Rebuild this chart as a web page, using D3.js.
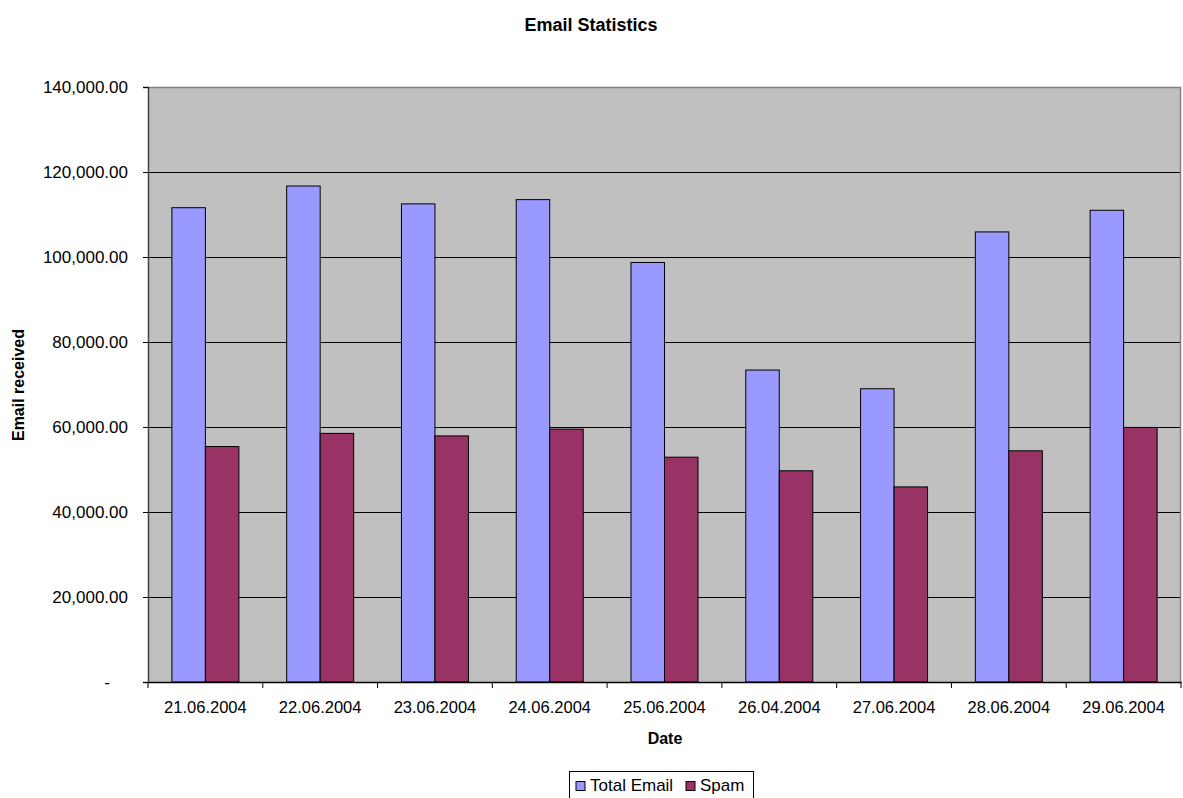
<!DOCTYPE html>
<html><head><meta charset="utf-8">
<script src="https://cdn.jsdelivr.net/npm/d3@7"></script>
<style>body{margin:0;background:#fff;} svg{display:block;font-family:"Liberation Sans",Arial,sans-serif;}</style>
</head><body>
<svg id="c" width="1183" height="798"></svg>
<script>
const categories = ["21.06.2004","22.06.2004","23.06.2004","24.06.2004","25.06.2004","26.04.2004","27.06.2004","28.06.2004","29.06.2004"];
const totalEmail = [111600,116700,112500,113500,98700,73400,69000,105900,111000];
const spam = [55400,58500,57900,59500,52900,49700,45900,54400,59900];
const seriesNames = ["Total Email","Spam"];
const seriesColors = ["#9999FF","#993366"];
const yTicks = [0,20000,40000,60000,80000,100000,120000,140000];

const svg = d3.select("#c");
const L=148, R=1181, T=87, B=682;
const x = d3.scaleBand().domain(categories).range([L,R]).padding(0);
const xs = d3.scaleBand().domain(seriesNames).range([0,x.bandwidth()]).paddingInner(0).paddingOuter(0.713);
const y = d3.scaleLinear().domain([0,140000]).range([B,T]);

svg.append("rect").attr("x",L).attr("y",T).attr("width",R-L).attr("height",B-T).attr("fill","#C0C0C0");
// gridlines
svg.append("g").selectAll("line").data(yTicks.filter(d=>d>0 && d<140000)).join("line")
  .attr("x1",L).attr("x2",R-1).attr("y1",d=>Math.round(y(d))+0.5).attr("y2",d=>Math.round(y(d))+0.5)
  .attr("stroke","#000").attr("stroke-width",1);
// border top/right
svg.append("path").attr("d",`M${L},${T+0.5}H${R-0.5}V${B}`).attr("fill","none").attr("stroke","#808080").attr("stroke-width",1.5);

const data = [totalEmail, spam];
const g = svg.append("g");
seriesNames.forEach((s,si)=>{
  g.append("g").selectAll("rect").data(categories).join("rect")
    .attr("x",(c)=>x(c)+xs(s))
    .attr("y",(c,i)=>y(data[si][i]))
    .attr("width",xs.bandwidth())
    .attr("height",(c,i)=>B-y(data[si][i]))
    .attr("fill",seriesColors[si]).attr("stroke","#000").attr("stroke-width",1);
});

// y axis
const fmt = d => d===0 ? "-" : d3.format(",.2f")(d);
const ya = svg.append("g").attr("transform",`translate(${L},0)`)
  .call(d3.axisLeft(y).tickValues(yTicks).tickFormat(fmt).tickSize(5).tickPadding(15));
ya.select(".domain").attr("stroke","#404040").attr("stroke-width",1.5);
ya.selectAll(".tick line").attr("stroke","#000");
ya.selectAll("text").attr("font-size",17).attr("fill","#000").style("font-family","Liberation Sans, Arial, sans-serif");
ya.selectAll(".tick").filter(d=>d===0).select("text").attr("dx",-18);

// x axis
const xa = svg.append("g").attr("transform",`translate(0,${B})`)
  .call(d3.axisBottom(x).tickSize(0).tickPadding(19));
xa.select(".domain").attr("stroke","#000").attr("stroke-width",1.5);
xa.selectAll("text").attr("font-size",16.5).attr("fill","#000").style("font-family","Liberation Sans, Arial, sans-serif");
svg.append("g").selectAll("line").data(d3.range(categories.length+1)).join("line")
  .attr("x1",i=>L+i*x.step()).attr("x2",i=>L+i*x.step())
  .attr("y1",B).attr("y2",B+6).attr("stroke","#000");

// titles
svg.append("text").attr("x",591).attr("y",31).attr("text-anchor","middle")
  .attr("font-size",18).attr("font-weight","bold").text("Email Statistics");
svg.append("text").attr("x",665).attr("y",744).attr("text-anchor","middle")
  .attr("font-size",16).attr("font-weight","bold").text("Date");
svg.append("text").attr("transform","translate(24,385) rotate(-90)").attr("text-anchor","middle")
  .attr("font-size",16).attr("font-weight","bold").text("Email received");

// legend
const lg = svg.append("g");
lg.append("rect").attr("x",569.5).attr("y",771.5).attr("width",184).attr("height",40)
  .attr("fill","#fff").attr("stroke","#000").attr("stroke-width",1);
const lx = [576, 686];
seriesNames.forEach((s,i)=>{
  lg.append("rect").attr("x",lx[i]).attr("y",781.5).attr("width",9).attr("height",9)
    .attr("fill",seriesColors[i]).attr("stroke","#000").attr("stroke-width",1);
  lg.append("text").attr("x",lx[i]+14).attr("y",791).attr("font-size",17).text(s);
});
</script>
</body></html>
